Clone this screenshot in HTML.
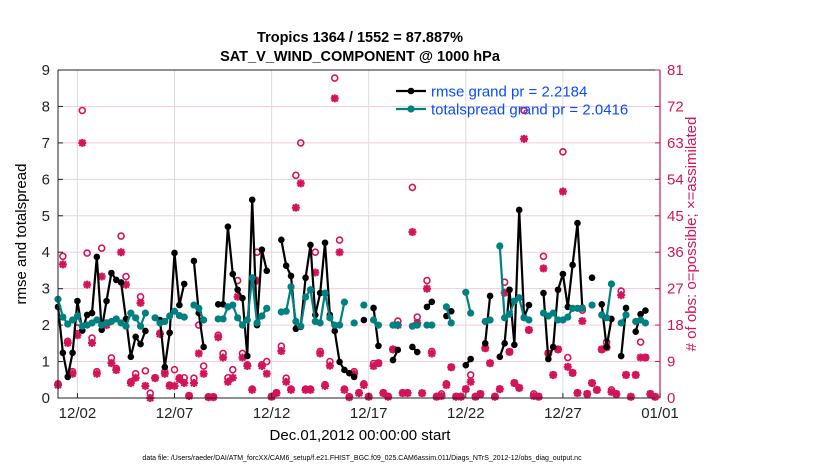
<!DOCTYPE html>
<html><head><meta charset="utf-8">
<style>
html,body{margin:0;padding:0;background:#fff;}
svg{display:block;font-family:"Liberation Sans",Arial,sans-serif;}
</style></head>
<body>
<svg id="chart" width="830" height="470" viewBox="0 0 830 470">
  <text x="360" y="42" text-anchor="middle" font-size="14.5" font-weight="bold">Tropics 1364 / 1552 = 87.887%</text>
  <text x="360" y="61" text-anchor="middle" font-size="14.5" font-weight="bold">SAT_V_WIND_COMPONENT @ 1000 hPa</text>
  <g id="grid"></g>
  <g id="obs"></g>
  <g id="lines"></g>
  <g id="axes"></g>
  <text transform="translate(26,234) rotate(-90)" text-anchor="middle" font-size="15">rmse and totalspread</text>
  <text transform="translate(696,234) rotate(-90)" text-anchor="middle" font-size="15" fill="#d4145a"># of obs: o=possible; ×=assimilated</text>
  <text x="360" y="440" text-anchor="middle" font-size="15">Dec.01,2012 00:00:00 start</text>
  <text x="362" y="460" text-anchor="middle" font-size="7">data file: /Users/raeder/DAI/ATM_forcXX/CAM6_setup/f.e21.FHIST_BGC.f09_025.CAM6assim.011/Diags_NTrS_2012-12/obs_diag_output.nc</text>
  <g id="legend"></g>
</svg>
<script>
const xTickLabels = ["12/02","12/07","12/12","12/17","12/22","12/27","01/01"];
const xTickDays = [1,6,11,16,21,26,31];
const yTicksLeft = [0,1,2,3,4,5,6,7,8,9];
const yTicksRight = [0,9,18,27,36,45,54,63,72,81];
const N = null;
const rmse = [2.5,1.24,0.58,1.24,2.66,1.85,2.28,2.33,3.87,1.87,2.66,3.43,3.24,3.17,2.17,1.13,1.68,1.48,1.84,N,2.2,2.14,0.85,1.79,3.98,2.55,3.13,N,3.76,2.33,1.4,N,N,2.57,2.57,4.7,3.4,2.97,2.74,1.15,5.44,2.0,4.07,3.49,N,N,4.34,3.63,3.35,1.9,1.95,3.3,4.2,2.28,2.88,4.26,2.28,1.84,0.99,0.77,0.68,0.58,N,2.14,N,2.47,1.43,N,N,1.04,1.32,N,N,1.4,1.26,N,2.5,2.64,N,N,2.25,2.38,N,N,0.9,1.07,N,N,1.5,2.8,N,1.13,1.5,2.97,1.46,5.16,2.22,2.55,N,N,2.88,1.07,1.4,2.97,3.4,2.5,3.65,4.8,2.48,N,3.3,N,2.57,1.4,2.17,N,1.15,2.47,N,1.82,2.3,2.4,N,N];
const spread = [2.71,2.22,2.03,2.14,2.25,1.97,2.0,2.06,2.14,2.0,2.06,2.1,2.17,2.06,1.97,2.33,2.2,1.97,2.33,N,2.2,2.06,2.1,2.25,2.38,2.26,2.22,N,2.55,2.46,2.14,N,N,2.17,2.17,2.5,2.55,2.2,2.0,2.14,3.3,2.06,2.25,2.46,N,N,2.36,2.38,3.05,2.1,1.97,2.77,2.97,2.1,2.06,2.88,2.2,2.0,2.0,2.63,N,2.06,N,2.55,N,2.14,2.0,N,N,2.0,2.0,N,N,1.97,2.0,N,2.0,2.0,N,N,2.5,2.06,N,N,2.9,2.33,N,N,2.1,2.14,N,4.17,2.2,2.3,2.66,2.75,2.2,2.14,N,N,2.33,2.25,2.33,2.14,2.14,2.22,2.46,2.46,2.46,N,2.55,N,2.28,2.2,3.13,N,2.06,2.28,N,2.1,2.14,2.06,N,N];
const possible = [3.5,35,14,6.5,17.3,71,35.8,14.8,6.5,37,18.5,9.9,7.3,40,30,4,6,25,6.7,1.2,5,16,6.5,3.2,7,5,5,0.6,4.9,18,7.9,0.3,0.3,15.5,11,5,7,29,11,8.2,2.2,36,8.2,9,0.4,1.3,12.8,4.9,2.2,55,63,2.2,2.2,36,11.5,3.3,9,79,39,2.2,0.3,6.5,1.3,3.5,0.4,8.5,8.6,1.3,0.4,12,19,1.3,1.3,52,20,1.2,29,11.5,0.4,1,3.5,7.6,0.4,0.4,2.2,5.7,0.4,1,12.3,8.6,0.4,2.2,28.6,11.4,3.7,2.5,71,16.8,1,0.4,35,11,5.7,12,60.8,10,6.2,1.3,21.7,1,3.7,2,12,13.8,2,1,26.4,5.7,0.3,5.7,13.8,10,1,0.3];
const assimilated = [3.2,33,13.6,6,15.5,63,28,13.6,6,30,18,8.6,6.9,36,28,3.7,5,23.5,3,0,4.9,15.8,6,3,3,4.7,3.7,0.5,3.7,11,6,0.2,0.2,15,10,4,5,25,10,7.9,2,29,7.9,6,0.3,1.2,11.6,4,2,47,53,2,2,31,11,3,8,74,36,2,0.2,6,1.2,3.2,0.3,7.9,8.6,1.2,0.3,12,18,1.2,1.2,41,18.5,1.2,27,11,0.3,0.5,3.2,7.6,0.3,0.3,2.2,4,0.3,1,12.3,8.6,0.3,2.2,26,11.4,3.7,2.5,64,16.8,0.5,0.3,32,11,5.7,12,51,7.7,6.2,1.2,19,1,3.7,2,12,12.5,1.5,1,25.4,5.7,0.3,5.7,10,10,1,0.3];
const legendLabels = ["rmse grand pr = 2.2184","totalspread grand pr = 2.0416"];

const PL=58, PR=660, PT=70, PB=398;
const MAG="#d4145a", TEAL="#008080";
function xScale(day){ return PL + day/31*(PR-PL); }
function yLeft(v){ return PB - v/9*(PB-PT); }
function yRight(c){ return PB - c/81*(PB-PT); }
function dayOf(i){ return i/4; }
const NS="http://www.w3.org/2000/svg";
function mk(tag, attrs, parent){ const e=document.createElementNS(NS,tag); for(const k in attrs) e.setAttribute(k,attrs[k]); parent.appendChild(e); return e; }

const grid=document.getElementById('grid');
yTicksLeft.forEach(v=>{ if(v>0&&v<9){
  const l=mk('line',{x1:PL,x2:PR,y1:yLeft(v),y2:yLeft(v),stroke:"#f3cddb","stroke-width":1},grid);
  
  
}});
xTickDays.forEach(d=>{
  const l=mk('line',{x1:xScale(d),x2:xScale(d),y1:PT,y2:PB,stroke:"#dcdcdc","stroke-width":1},grid);
  
  
});

const obs=document.getElementById('obs');
possible.forEach((c,i)=>{
  if(c===null) return;
  const e=mk('circle',{cx:xScale(dayOf(i)),cy:yRight(c),r:3,fill:"none",stroke:MAG,"stroke-width":1.6},obs);
  
  
});
assimilated.forEach((c,i)=>{
  if(c===null) return;
  const x=xScale(dayOf(i)), y=yRight(c), s=4;
  const d=`M${x-s},${y}L${x+s},${y}M${x},${y-s}L${x},${y+s}M${x-s*0.75},${y-s*0.75}L${x+s*0.75},${y+s*0.75}M${x-s*0.75},${y+s*0.75}L${x+s*0.75},${y-s*0.75}`;
  const e=mk('path',{d:d,stroke:MAG,"stroke-width":2.2,fill:"none"},obs);
  
  
});

const lines=document.getElementById('lines');
function drawSeries(arr,color,r,name){
  let d="", pen=false;
  arr.forEach((v,i)=>{
    if(v===null){pen=false;return;}
    d+=(pen?"L":"M")+xScale(dayOf(i)).toFixed(1)+","+yLeft(v).toFixed(1);
    pen=true;
  });
  const p=mk('path',{d:d,stroke:color,"stroke-width":2.2,fill:"none","stroke-linejoin":"round"},lines);
  
  
  arr.forEach((v,i)=>{
    if(v===null) return;
    const c=mk('circle',{cx:xScale(dayOf(i)),cy:yLeft(v),r:r,fill:color},lines);
    
    
  });
}
drawSeries(rmse,"#000",3.3,"rmse");
drawSeries(spread,TEAL,3.6,"totalspread");

const axes=document.getElementById('axes');
mk('path',{d:`M${PL},${PT}L${PR},${PT}M${PL},${PT}L${PL},${PB}L${PR},${PB}`,stroke:"#222","stroke-width":1,fill:"none"},axes);
mk('line',{x1:PR,x2:PR,y1:PT,y2:PB,stroke:MAG,"stroke-width":1.2},axes);
yTicksLeft.forEach(v=>{
  const y=yLeft(v);
  mk('line',{x1:PL,x2:PL+5,y1:y,y2:y,stroke:"#222"},axes);
  const t=mk('text',{x:PL-8,y:y+5,"text-anchor":"end","font-size":15,fill:"#222"},axes);
  t.textContent=v;
  
  
});
yTicksRight.forEach(v=>{
  const y=yRight(v);
  mk('line',{x1:PR-5,x2:PR,y1:y,y2:y,stroke:MAG},axes);
  const t=mk('text',{x:PR+7,y:y+5,"text-anchor":"start","font-size":15,fill:MAG},axes);
  t.textContent=v;
  
  
});
xTickDays.forEach((d,k)=>{
  const x=xScale(d);
  mk('line',{x1:x,x2:x,y1:PB,y2:PB-5,stroke:"#222"},axes);
  const t=mk('text',{x:x,y:PB+20,"text-anchor":"middle","font-size":15,fill:"#222"},axes);
  t.textContent=xTickLabels[k];
  
  
});

const leg=document.getElementById('legend');
[["#000",3.3],[TEAL,3.6]].forEach((s,k)=>{
  const y=91+k*18;
  mk('line',{x1:396,x2:426,y1:y,y2:y,stroke:s[0],"stroke-width":2.2},leg);
  mk('circle',{cx:411,cy:y,r:s[1],fill:s[0]},leg);
  const t=mk('text',{x:431,y:y+5.5,"font-size":15,fill:"#0a4cff"},leg);
  t.textContent=legendLabels[k];
  
  
});
</script>
</body></html>
